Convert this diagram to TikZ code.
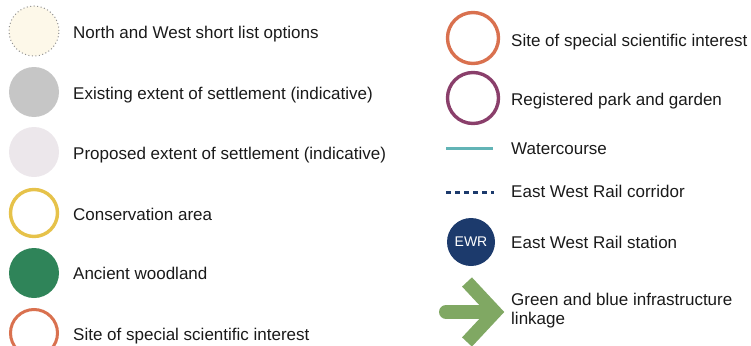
\documentclass[tikz,border=0pt]{standalone}
\usepackage{fontspec}
\setmainfont{Liberation Sans}
\definecolor{txt}{HTML}{1A1A1A}
\definecolor{cream}{HTML}{FDF8E9}
\definecolor{dotgrey}{HTML}{909090}
\definecolor{existgrey}{HTML}{C6C6C6}
\definecolor{proppink}{HTML}{ECE7EB}
\definecolor{consyellow}{HTML}{E6C24A}
\definecolor{woodgreen}{HTML}{2F8459}
\definecolor{sssiorange}{HTML}{D9714F}
\definecolor{parkpurple}{HTML}{8A3F6B}
\definecolor{waterteal}{HTML}{62B4B6}
\definecolor{railnavy}{HTML}{1C3A6C}
\definecolor{linkgreen}{HTML}{80A863}
\begin{document}
\begin{tikzpicture}[x=1pt,y=-1pt,
  lbl/.style={anchor=base west,inner sep=0pt,text=txt,font=\fontsize{17}{19}\selectfont},
  disc/.style={circle,minimum size=50pt,inner sep=0pt},
  ring/.style={circle,minimum size=47pt,inner sep=0pt,line width=3.4pt}]
\useasboundingbox (0,0) rectangle (751,345);
% left column
\node[disc,fill=cream,draw=dotgrey,dash pattern=on 1pt off 2.5pt,line width=1pt] (c1) at (34,31) {};
\node[lbl] (t1) at (73,38) {North and West short list options};
\node[disc,fill=existgrey] (c2) at (34,92) {};
\node[lbl] (t2) at (73,99) {Existing extent of settlement (indicative)};
\node[disc,fill=proppink] (c3) at (34,152) {};
\node[lbl] (t3) at (73,159) {Proposed extent of settlement (indicative)};
\node[ring,draw=consyellow] (c4) at (34,213) {};
\node[lbl] (t4) at (73,220) {Conservation area};
\node[disc,fill=woodgreen] (c5) at (34,273) {};
\node[lbl] (t5) at (73,279) {Ancient woodland};
\node[ring,draw=sssiorange,line width=3pt] (c6) at (34,333) {};
\node[lbl] (t6) at (73,340) {Site of special scientific interest};
% right column
\node[ring,draw=sssiorange,minimum size=51pt] (r1) at (473,38) {};
\node[lbl] (u1) at (511,47) {Site of special scientific interest};
\node[ring,draw=parkpurple,minimum size=51pt] (r2) at (473,98) {};
\node[lbl] (u2) at (511,105) {Registered park and garden};
\coordinate (w1) at (446,148);
\coordinate (w2) at (493,148);
\draw[waterteal,line width=3pt] (w1) -- (w2);
\node[lbl] (u3) at (511,154) {Watercourse};
\coordinate (d1) at (446,192);
\coordinate (d2) at (494,192);
\draw[railnavy,line width=3pt,dash pattern=on 5pt off 4pt] (d1) -- (d2);
\node[lbl] (u4) at (511,197) {East West Rail corridor};
\node[disc,fill=railnavy,minimum size=48pt,text=white,font=\fontsize{14}{16}\selectfont] (r5) at (471,242) {EWR};
\node[lbl] (u5) at (511,248) {East West Rail station};
\coordinate (a0) at (446,312);
\coordinate (atip) at (495,312);
\coordinate (aup) at (467,282);
\coordinate (alow) at (467,342);
\draw[linkgreen,line width=14pt,line cap=round] (a0) -- ([xshift=-8pt]atip);
\draw[linkgreen,line width=13.5pt,line cap=butt,line join=miter,miter limit=4] (aup) -- (atip) -- (alow);
\node[lbl,align=left,anchor=west,font=\fontsize{17}{19}\selectfont] (u6) at (511,311) {Green and blue infrastructure\\linkage};
\end{tikzpicture}
\end{document}
